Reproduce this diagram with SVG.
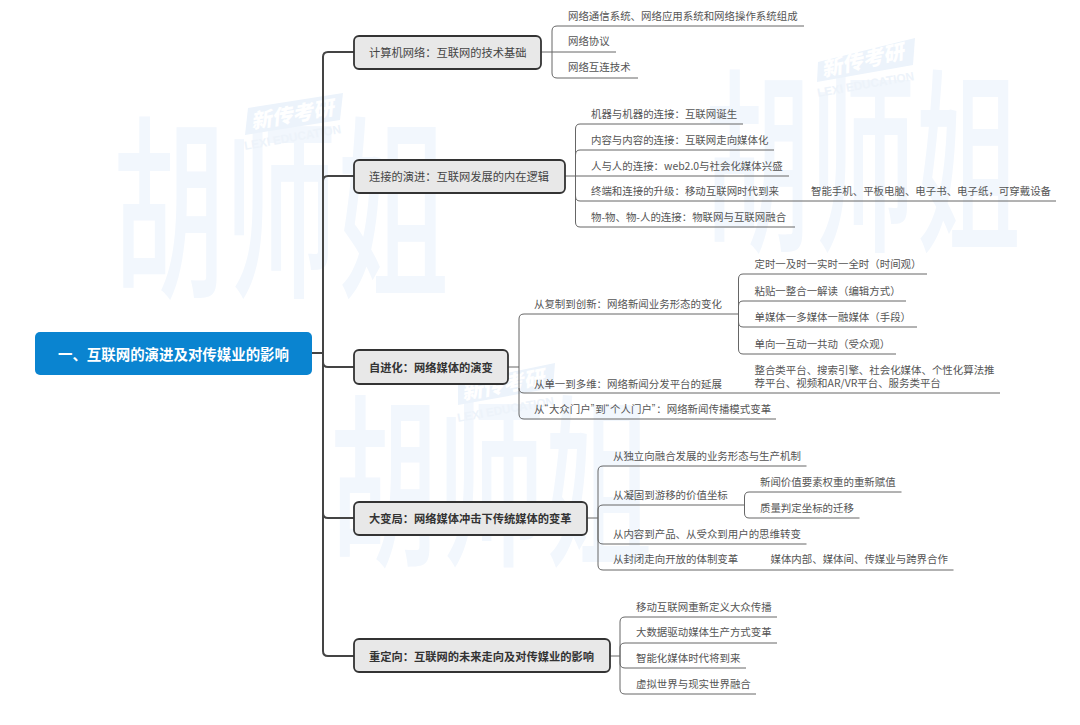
<svg xmlns="http://www.w3.org/2000/svg" width="1080" height="725" viewBox="0 0 1080 725">
<style>
text{font-family:"Noto Sans CJK SC","Liberation Sans",sans-serif}
.wm{fill:#f2f7fd;font-size:112px;font-weight:500}
.lg{fill:#fff;font-size:20px;font-weight:900;font-style:italic}
.le{fill:#edf3fa;font-size:12px;font-family:"Liberation Sans",sans-serif;font-weight:700}
.pl{fill:#ecf3fb}
.t{fill:#555;font-size:10.45px;dominant-baseline:central}
.n{fill:#e8e8e8;stroke:#333;stroke-width:1.8}
.nt{fill:#444;font-size:11.25px;dominant-baseline:central}
.b{font-weight:700;fill:#333}
.m{fill:none;stroke:#444;stroke-width:2}
.s{fill:none;stroke:#666;stroke-width:1}
.q{font-family:"Liberation Sans",sans-serif;letter-spacing:1px}
</style>
<rect width="1080" height="725" fill="#fff"/>
<g id="watermarks">
<text class="wm" transform="translate(113,282) scale(1,1.75)">胡师姐</text>
<text class="wm" transform="translate(705,236) scale(.94,1.75)">胡师姐</text>
<text class="wm" transform="translate(330,552) scale(.96,1.65)">胡师姐</text>
<polygon class="pl" points="248,108 343,93 340,120 245,135"/><text class="lg" transform="translate(252,129) rotate(-10)" textLength="84" lengthAdjust="spacingAndGlyphs">新传考研</text><text class="le" transform="translate(245,150) rotate(-10)" textLength="98" lengthAdjust="spacingAndGlyphs">LEXI EDUCATION</text>
<polygon class="pl" points="818,62 915,38 913,65 817,82"/><text class="lg" transform="translate(823,77) rotate(-13)" textLength="84" lengthAdjust="spacingAndGlyphs">新传考研</text><text class="le" transform="translate(818,97) rotate(-10)" textLength="98" lengthAdjust="spacingAndGlyphs">LEXI EDUCATION</text>
<polygon class="pl" points="458,383 555,363 553,388 458,405"/><text class="lg" transform="translate(463,400) rotate(-11)" textLength="84" lengthAdjust="spacingAndGlyphs">新传考研</text><text class="le" transform="translate(458,422) rotate(-10)" textLength="98" lengthAdjust="spacingAndGlyphs">LEXI EDUCATION</text>
</g>
<g id="connectors">
<path class="m" d="M312 353H323"/>
<path class="m" d="M354 52H328Q323 52 323 57V651Q323 656 328 656H354"/>
<path class="m" d="M354 176H328Q323 176 323 181M323 362Q323 367 328 367H354M354 518H328Q323 518 323 513"/>
<path class="s" d="M541 52H616M804 26H557Q552 26 552 31V73Q552 78 557 78H638"/>
<path class="s" d="M565 176H789M743 124H580Q575.500 124 575.500 129V222Q575.500 227 580 227H795M774 150H580Q575.500 150 575.500 155V196Q575.500 201 580 201H1056"/>
<path class="s" d="M508 367H519M738.500 314H524Q519 314 519 319V414Q519 419 524 419H776M519 388Q519 393 524 393H1000"/>
<path class="s" d="M927 274H743Q738.500 274 738.500 279V349Q738.500 354 743 354H896M906 301H743Q738.500 301 738.500 306V322Q738.500 327 743 327H917"/>
<path class="s" d="M587 518H598M806.500 466H603Q598 466 598 471V565Q598 570 603 570H953.500M744.500 505H603Q598 505 598 510V539Q598 544 603 544H806.500"/>
<path class="s" d="M901.500 492H749Q744.500 492 744.500 497V513Q744.500 518 749 518H859.500"/>
<path class="s" d="M610 656H620M777 617H625Q620 617 620 622V689Q620 694 625 694H756M777 643H625Q620 643 620 648V663Q620 668 625 668H746"/>
</g>
<g id="root"><rect x="35" y="332" width="277" height="43" rx="5" fill="#0a84d0"/><text x="58" y="353" font-size="14.450" font-weight="700" fill="#fff" dominant-baseline="central">一、互联网的演进及对传媒业的影响</text></g>
<g id="n1"><rect class="n" x="354" y="36" width="187" height="33" rx="5"/><text class="nt" x="369" y="51.500">计算机网络：互联网的技术基础</text></g>
<g id="n2"><rect class="n" x="354" y="160" width="211" height="33" rx="5"/><text class="nt" x="369" y="175.500">连接的演进：互联网发展的内在逻辑</text></g>
<g id="n3"><rect class="n" x="354" y="350" width="154" height="34" rx="5"/><text class="nt b" x="369" y="366.500">自进化：网络媒体的演变</text></g>
<g id="n4"><rect class="n" x="354" y="502" width="233" height="33" rx="5"/><text class="nt b" x="369" y="517.500">大变局：网络媒体冲击下传统媒体的变革</text></g>
<g id="n5"><rect class="n" x="354" y="639" width="256" height="33" rx="5"/><text class="nt b" x="369" y="655.500">重定向：互联网的未来走向及对传媒业的影响</text></g>
<g id="t1"><text class="t" x="568" y="15">网络通信系统、网络应用系统和网络操作系统组成</text><text class="t" x="568" y="40.500">网络协议</text><text class="t" x="568" y="66">网络互连技术</text></g>
<g id="t2"><text class="t" x="591" y="113">机器与机器的连接：互联网诞生</text><text class="t" x="591" y="139">内容与内容的连接：互联网走向媒体化</text><text class="t" x="591" y="165">人与人的连接：web2.0与社会化媒体兴盛</text><text class="t" x="591" y="190">终端和连接的升级：移动互联网时代到来</text><text class="t" x="811" y="190">智能手机、平板电脑、电子书、电子纸，可穿戴设备</text><text class="t" x="591" y="216">物-物、物-人的连接：物联网与互联网融合</text></g>
<g id="t3"><text class="t" x="534" y="303">从复制到创新：网络新闻业务形态的变化</text><text class="t" x="534" y="383">从单一到多维：网络新闻分发平台的延展</text><text class="t" x="534" y="408">从<tspan class="q">“</tspan>大众门户<tspan class="q">”</tspan>到<tspan class="q">“</tspan>个人门户<tspan class="q">”</tspan>：网络新闻传播模式变革</text><text class="t" x="754.500" y="263">定时一及时一实时一全时（时间观）</text><text class="t" x="754.500" y="290">粘贴一整合一解读（编辑方式）</text><text class="t" x="754.500" y="316">单媒体一多媒体一融媒体（手段）</text><text class="t" x="754.500" y="343">单向一互动一共动（受众观）</text><text class="t" x="754.500" y="369">整合类平台、搜索引擎、社会化媒体、个性化算法推</text><text class="t" x="754.500" y="382">荐平台、视频和AR/VR平台、服务类平台</text></g>
<g id="t4"><text class="t" x="613" y="455">从独立向融合发展的业务形态与生产机制</text><text class="t" x="613" y="494">从凝固到游移的价值坐标</text><text class="t" x="613" y="533">从内容到产品、从受众到用户的思维转变</text><text class="t" x="613" y="558">从封闭走向开放的体制变革</text><text class="t" x="770.500" y="558">媒体内部、媒体间、传媒业与跨界合作</text><text class="t" x="760" y="481">新闻价值要素权重的重新赋值</text><text class="t" x="760" y="507">质量判定坐标的迁移</text></g>
<g id="t5"><text class="t" x="636" y="606">移动互联网重新定义大众传播</text><text class="t" x="636" y="631">大数据驱动媒体生产方式变革</text><text class="t" x="636" y="657">智能化媒体时代将到来</text><text class="t" x="636" y="683">虚拟世界与现实世界融合</text></g>
</svg>
